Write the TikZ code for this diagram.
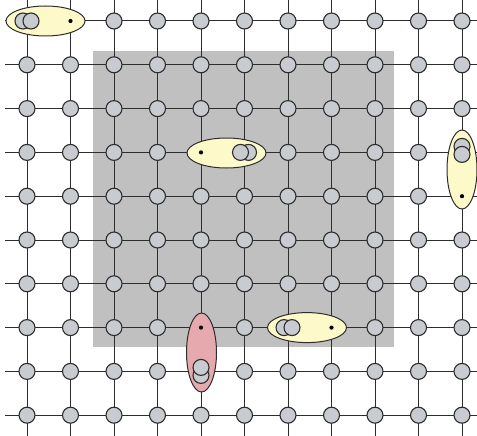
\documentclass[tikz,border=0pt]{standalone}
\usepackage{tikz}
\usetikzlibrary{shapes.geometric}
\definecolor{sitefill}{RGB}{200,203,208}
\definecolor{regiongray}{RGB}{192,192,192}
\definecolor{pairyellow}{RGB}{253,249,200}
\definecolor{pairpink}{RGB}{229,169,174}
\definecolor{inkline}{RGB}{45,45,45}
\tikzset{
  site/.style={circle,draw=inkline,fill=sitefill,line width=1.1pt,minimum size=16pt,inner sep=0pt},
  bond/.style={draw=inkline,line width=1pt},
  hpair/.style={ellipse,draw=inkline,line width=1pt,minimum width=79pt,minimum height=30pt,inner sep=0pt},
  vpair/.style={ellipse,draw=inkline,line width=1pt,minimum width=30pt,minimum height=79pt,inner sep=0pt},
  hole/.style={circle,fill=black,minimum size=4.2pt,inner sep=0pt}
}
\begin{document}
\begin{tikzpicture}[x=1pt,y=-1pt]
\path[use as bounding box] (0,0) rectangle (477,436);
% shaded region
\fill[regiongray] (93,51) rectangle (394,347);
% lattice bonds
\foreach \j in {0,...,9} {
  \coordinate (lft-\j) at (5,{21+43.8*\j});
  \coordinate (rgt-\j) at (477,{21+43.8*\j});
  \draw[bond] (lft-\j) -- (rgt-\j);
}
\foreach \i in {0,...,10} {
  \coordinate (top-\i) at ({27+43.5*\i},0);
  \coordinate (bot-\i) at ({27+43.5*\i},436);
  \draw[bond] (top-\i) -- (bot-\i);
}
% lattice sites
\foreach \i in {0,...,10}
  \foreach \j in {0,...,9}
    \node[site] (site-\i-\j) at ({27+43.5*\i},{21+43.8*\j}) {};
% pair A, top left
\node[hpair,fill=pairyellow] (pairA) at (45.5,21) {};
\node[site] (pairA-1) at ([xshift=-4pt]site-0-0) {};
\node[site] (pairA-2) at ([xshift=4pt]site-0-0) {};
\node[hole] (holeA) at (site-1-0) {};
% pair B, centre
\node[hpair,fill=pairyellow] (pairB) at (226.5,153) {};
\node[site] (pairB-2) at ([xshift=4pt]site-5-3) {};
\node[site] (pairB-1) at ([xshift=-4pt]site-5-3) {};
\node[hole] (holeB) at (site-4-3) {};
% pair C, right edge
\node[vpair,fill=pairyellow] (pairC) at (462,169.5) {};
\node[site] (pairC-1) at ([yshift=6pt]site-10-3) {};
\node[site] (pairC-2) at ([yshift=-2pt]site-10-3) {};
\node[hole] (holeC) at (site-10-4) {};
% pair D, pink
\node[vpair,fill=pairpink] (pairD) at (201.5,352.5) {};
\node[site] (pairD-2) at ([yshift=-4pt]site-4-8) {};
\node[site] (pairD-1) at ([yshift=4pt]site-4-8) {};
\node[hole] (holeD) at (site-4-7) {};
% pair E, lower middle
\node[hpair,fill=pairyellow] (pairE) at (307,327.6) {};
\node[site] (pairE-1) at ([xshift=-4pt]site-6-7) {};
\node[site] (pairE-2) at ([xshift=4pt]site-6-7) {};
\node[hole] (holeE) at (site-7-7) {};
\end{tikzpicture}
\end{document}
